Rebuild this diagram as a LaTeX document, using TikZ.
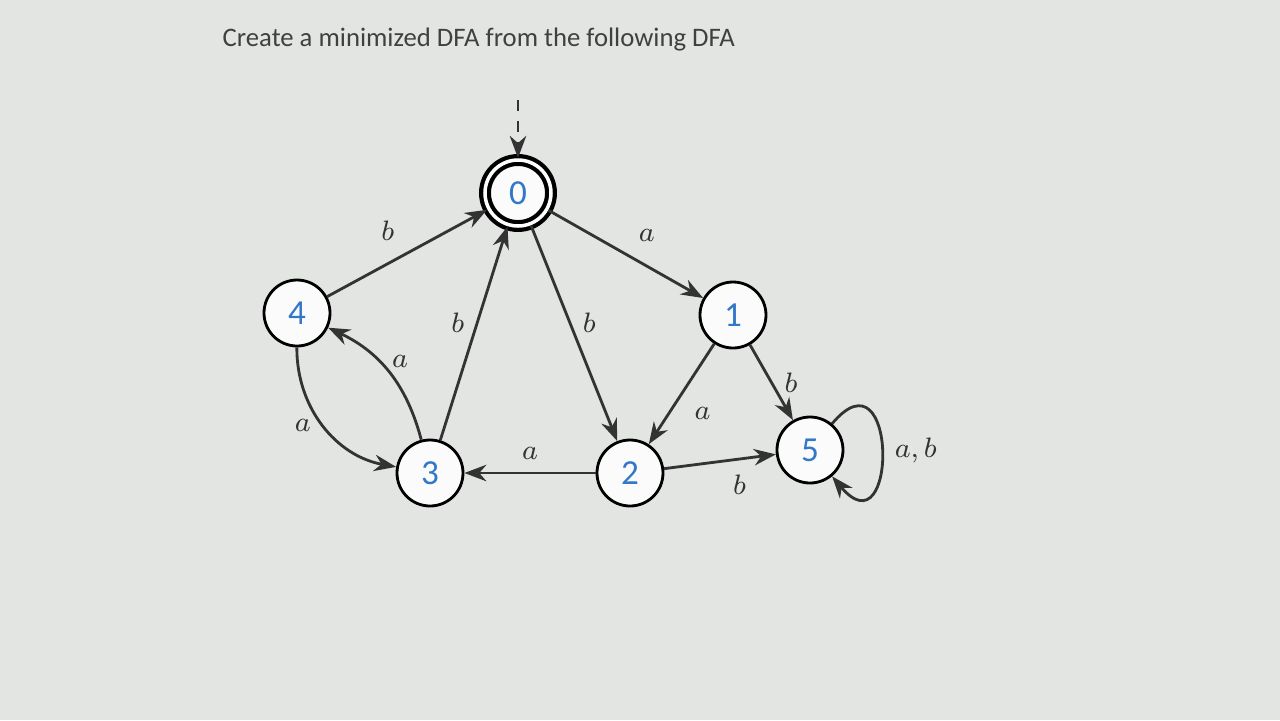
\documentclass[tikz,border=0pt]{standalone}
\usepackage{fontspec}
\setsansfont{Carlito}
\usetikzlibrary{arrows.meta}
\definecolor{screen}{RGB}{226,229,226}
\definecolor{numblue}{RGB}{50,120,200}
\begin{document}
\begin{tikzpicture}[x=0.1cm,y=-0.1cm,
	state/.style = {draw, circle, thick, fill=white!85!screen, minimum size=6.6mm, inner sep=0pt, font=\sffamily\color{numblue}},
	edge/.style = {-{Stealth[length=2.2mm]}, thick, black!80},
	lbl/.style = {font=\footnotesize}]
	\fill[screen] (0,0) rectangle (128,72);
	\node[anchor=west, font=\sffamily\fontsize{7.6}{9}\selectfont, black!75, inner sep=0pt] (title) at (22.2,4) {Create a minimized DFA from the following DFA};
	\begin{scope}
		\node[state, double, double distance=1pt, very thick] (q0) at (51.8,19.3) {0};
		\node[state] (q1) at (73.3,31.5) {1};
		\node[state] (q4) at (29.7,31.3) {4};
		\node[state] (q3) at (43,47.3) {3};
		\node[state] (q2) at (63,47.3) {2};
		\node[state] (q5) at (81,45) {5};
	\end{scope}
	\coordinate (start) at (51.8,10);
	\draw [edge, dashed, dash pattern=on 3pt off 3pt] (start) -- (q0);
	\draw [edge] (q4) -- node[lbl, above left] {$b$} (q0);
	\draw [edge] (q0) -- node[lbl, above right] {$a$} (q1);
	\draw [edge] (q3) -- node[lbl, left, pos=0.55] {$b$} (q0);
	\draw [edge] (q0) -- node[lbl, right, pos=0.45] {$b$} (q2);
	\draw [edge] (q3) to[bend right=25] node[lbl, right, pos=0.6] {$a$} (q4);
	\draw [edge] (q4) to[bend right=40] node[lbl, left] {$a$} (q3);
	\draw [edge] (q1) -- node[lbl, below right] {$a$} (q2);
	\draw [edge] (q1) -- node[lbl, right] {$b$} (q5);
	\draw [edge] (q2) -- node[lbl, above] {$a$} (q3);
	\draw [edge] (q2) -- node[lbl, below right] {$b$} (q5);
	\draw [edge] (q5) to[out=50, in=-50, looseness=5] node[lbl, right] {$a,b$} (q5);
\end{tikzpicture}
\end{document}
